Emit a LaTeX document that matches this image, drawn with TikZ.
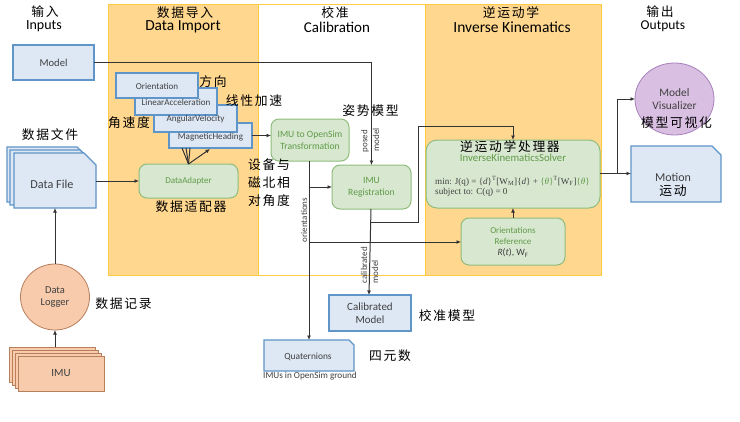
\documentclass[tikz,border=0pt]{standalone}
\usepackage{fontspec}
\setmainfont{Carlito}
\newfontfamily\cjk[LetterSpace=13]{Noto Sans CJK SC}
\newfontfamily\tnr{Liberation Serif}
\usetikzlibrary{shapes.geometric,arrows.meta}
\definecolor{panelfill}{HTML}{FFD78F}
\definecolor{panelline}{HTML}{FFCB45}
\definecolor{bluefill}{HTML}{DEE8F5}
\definecolor{blueline}{HTML}{5F95C8}
\definecolor{greenfill}{HTML}{D8E8D0}
\definecolor{greenline}{HTML}{8FBC7C}
\definecolor{greentext}{HTML}{5F9A48}
\definecolor{orangefill}{HTML}{F7CBAC}
\definecolor{orangeline}{HTML}{B87F5C}
\definecolor{purplefill}{HTML}{D9BFE2}
\definecolor{purpleline}{HTML}{A880BE}
\definecolor{wire}{HTML}{333333}
\definecolor{inktext}{HTML}{404040}
\tikzset{
  x=1pt,y=-1pt,
  panel/.style={draw=panelline,line width=0.8pt,fill=panelfill},
  sized/.style 2 args={minimum width=#1pt,minimum height=#2pt,inner sep=0pt,outer sep=0pt,align=center},
  blue/.style={draw=blueline,fill=bluefill,line width=1.1pt,text=inktext},
  label/.style={inner sep=0pt,text=inktext,align=center},
  green/.style={draw=greenline,fill=greenfill,line width=1pt,rounded corners=8pt,text=greentext,font=\fontsize{9}{11.5}\selectfont},
  orange/.style={draw=orangeline,fill=orangefill,line width=1pt,text=inktext,font=\fontsize{10}{12}\selectfont},
  wireline/.style={draw=wire,line width=1pt},
  arr/.style={wireline,-{Latex[length=4.5pt,width=4pt]}},
  zh/.style={inner sep=0pt,text=black,font=\cjk\fontsize{12.8}{18}\selectfont,align=center},
  vlab/.style={rotate=90,inner sep=0pt,text=inktext,font=\fontsize{9}{10}\selectfont},
}
% name, x1, y1, x2, y2, snip: a box with its top right corner cut off, and a named empty node over it
\newcommand{\snipbox}[6]{%
  \path[blue] (#2,#3) -- ({#4-#6},#3) -- (#4,{#3+#6}) -- (#4,#5) -- (#2,#5) -- cycle;
  \node[sized={#4-#2}{#5-#3}] (#1) at ({(#2+#4)/2},{(#3+#5)/2}) {};
}
\begin{document}
\begin{tikzpicture}
\useasboundingbox (0,0) rectangle (740,421);
\fill[white] (0,0) rectangle (740,421);
% panels
\path[panel] (108,4.5) rectangle (258,275);
\path[panel,fill=white] (258,4.5) rectangle (425,275);
\path[panel] (425,4.5) rectangle (601,275);
% headings
\node[zh] (h1z) at (45,12) {输入};
\node[label,text=black,font=\fontsize{14}{15}\selectfont] (h1) at (44,26) {Inputs};
\node[zh] (h2z) at (185,13) {数据导入};
\node[label,text=black,font=\fontsize{15.4}{16}\selectfont] (h2) at (183,27) {Data Import};
\node[zh] (h3z) at (335,13) {校准};
\node[label,text=black,font=\fontsize{15}{16}\selectfont] (h3) at (337,27) {Calibration};
\node[zh] (h4z) at (511,13) {逆运动学};
\node[label,text=black,font=\fontsize{15.5}{16}\selectfont] (h4) at (512,27) {Inverse Kinematics};
\node[zh] (h5z) at (660,12) {输出};
\node[label,text=black,font=\fontsize{13.5}{15}\selectfont] (h5) at (663,26) {Outputs};
% nodes
\node[blue,sized={81}{35},font=\fontsize{10.6}{12}\selectfont] (model) at (53.5,62.5) {Model};
\node[blue,sized={83}{25}] (mag) at (210.5,135.5) {};
\node[blue,sized={83}{27}] (ang) at (195.5,118.5) {};
\node[blue,sized={82}{27}] (lin) at (176,101.5) {};
\node[blue,sized={82}{25}] (ori) at (157,85.5) {};
\node[label,font=\fontsize{9.1}{10}\selectfont] (magl) at (210.5,137) {MagneticHeading};
\node[label,font=\fontsize{9.1}{10}\selectfont] (angl) at (195.5,119) {AngularVelocity};
\node[label,font=\fontsize{9.1}{10}\selectfont] (linl) at (176,102.7) {LinearAcceleration};
\node[label,font=\fontsize{9.1}{10}\selectfont] (oril) at (157,86) {Orientation};
\node[green,sized={99}{34}] (da) at (188.5,181) {DataAdapter};
\snipbox{df3}{7}{147}{89}{202}{12}
\snipbox{df2}{10}{150}{92}{205}{12}
\snipbox{df}{14}{153}{96}{208}{12}
\node[label,font=\fontsize{12.2}{14}\selectfont] (dfl) at (52,184) {Data File};
\node[ellipse,draw=orangeline,fill=orangefill,line width=0.8pt,sized={69}{66},text=inktext,font=\fontsize{10.5}{12.7}\selectfont] (dl) at (55,297) {Data\\Logger};
\node[orange,sized={86}{35}] (imu4) at (52,364.5) {};
\node[orange,sized={86}{35}] (imu3) at (55,367.5) {};
\node[orange,sized={86}{35}] (imu2) at (58,370.5) {};
\node[orange,sized={86}{35},font=\fontsize{11}{13}\selectfont] (imu) at (61,373.5) {IMU};
\node[green,sized={78}{42},font=\fontsize{9.6}{11.5}\selectfont] (tr) at (310,140) {IMU to OpenSim\\Transformation};
\node[green,sized={79}{44},font=\fontsize{9.6}{11.5}\selectfont] (reg) at (371.5,187) {IMU\\Registration};
\node[green,sized={174}{68},rounded corners=11pt] (ik) at (513,174) {};
\node[green,sized={104}{47}] (oref) at (513,241.5) {};
\node[blue,sized={82}{36},font=\fontsize{11}{12.5}\selectfont] (cal) at (370,313) {Calibrated\\Model};
\snipbox{quat}{264}{340}{354}{371}{5}
\node[label,font=\fontsize{9.4}{11}\selectfont] (quatm) at (308,357) {Quaternions};
\node[label,font=\fontsize{9.2}{10}\selectfont] (quatl) at (310,376) {IMUs in OpenSim ground};
\node[ellipse,draw=purpleline,fill=purplefill,line width=0.8pt,sized={79}{72}] (vis) at (674.5,99) {};
\snipbox{mot}{631}{146}{721}{202}{9}
% texts inside
\node[label,text=greentext,font=\fontsize{10.8}{12}\selectfont] (iksl) at (513,158) {InverseKinematicsSolver};
\node[label,anchor=west,font=\tnr\fontsize{9.1}{10}\selectfont] (f1) at (435,181) {min: J(q) = \{\textit{d}\}\textsuperscript{T}[W\textsubscript{M}]\{\textit{d}\} + \textcolor{greentext}{\{\textit{θ}\}}\textsuperscript{T}[W\textsubscript{F}]\textcolor{greentext}{\{\textit{θ}\}}};
\node[label,anchor=west,font=\tnr\fontsize{9.2}{10}\selectfont] (f2) at (435,192.5) {subject to: C(q) = 0};
\node[label,text=greentext,font=\fontsize{9}{10.5}\selectfont] (orl) at (513,236) {Orientations\\Reference};
\node[label,font=\fontsize{9.6}{11}\selectfont] (orf) at (513,253) {\textit{R}(\textit{t}), W\textsubscript{F}};
\node[label,font=\fontsize{11.4}{13}\selectfont] (visl) at (674.5,99.5) {Model\\Visualizer};
\node[label,font=\fontsize{12}{13}\selectfont] (motl) at (673,177) {Motion};
% junctions
\coordinate (j1) at (309,187);
\coordinate (j2) at (309,242);
\coordinate (j3) at (371,222);
\coordinate (j4) at (418,222);
\coordinate (j5) at (418,126);
\coordinate (j6) at (513,126);
\coordinate (j7) at (617,173.5);
\coordinate (j8) at (617,99);
\coordinate (j9) at (369,295);
% connectors
\draw[arr] (model.east) -| (reg.north);
\draw[arr] (df.east |- da.west) -- (da.west);
\draw[arr] (dl.north) -- (df.south -| dl.north);
\draw[arr] (imu4.north -| dl.south) -- (dl.south);
\draw[wireline] (da.north) -- (182,148);
\draw[wireline] (da.north) -- (186,148);
\draw[wireline] (da.north) -- (190,148);
\draw[arr] (da.north) -- (210,149);
\draw[arr] (mag.east) -- (tr.west |- mag.east);
\draw[arr] (tr.south -| j1) -- (quat.north -| j1);
\draw[arr] (j1) -- (reg.west |- j1);
\draw[arr] (j2) -- (oref.west |- j2);
\draw[arr] (oref.north) -- (ik.south);
\draw[arr] (reg.south -| j3) -- (j9);
\draw[arr] (j3) -- (j4) -- (j5) -- (j6) -- (ik.north -| j6);
\draw[arr] (ik.east |- j7) -- (mot.west |- j7);
\draw[arr] (j7) -- (j8) -- (vis.west |- j8);
% connector labels
\node[vlab] (lp1) at (365,141) {posed};
\node[vlab] (lp2) at (376,140) {model};
\node[vlab] (lo) at (304,220) {orientations};
\node[vlab] (lc1) at (364,265) {calibrated};
\node[vlab] (lc2) at (375,272) {model};
% Chinese annotations
\node[zh] (z1) at (50,135) {数据文件};
\node[zh] (z2) at (213,82) {方向};
\node[zh] (z3) at (254,101) {线性加速};
\node[zh] (z4) at (129,123) {角速度};
\node[zh,anchor=north west,align=left] (z5) at (248,159) {设备与\\磁北相\\对角度};
\node[zh] (z6) at (191,207) {数据适配器};
\node[zh] (z7) at (370.5,111) {姿势模型};
\node[zh] (z8) at (510,147) {逆运动学处理器};
\node[zh] (z9) at (676.5,123) {模型可视化};
\node[zh] (z10) at (673,191) {运动};
\node[zh] (z11) at (123.5,304) {数据记录};
\node[zh] (z12) at (447,316) {校准模型};
\node[zh] (z13) at (390,356) {四元数};
\end{tikzpicture}
\end{document}
